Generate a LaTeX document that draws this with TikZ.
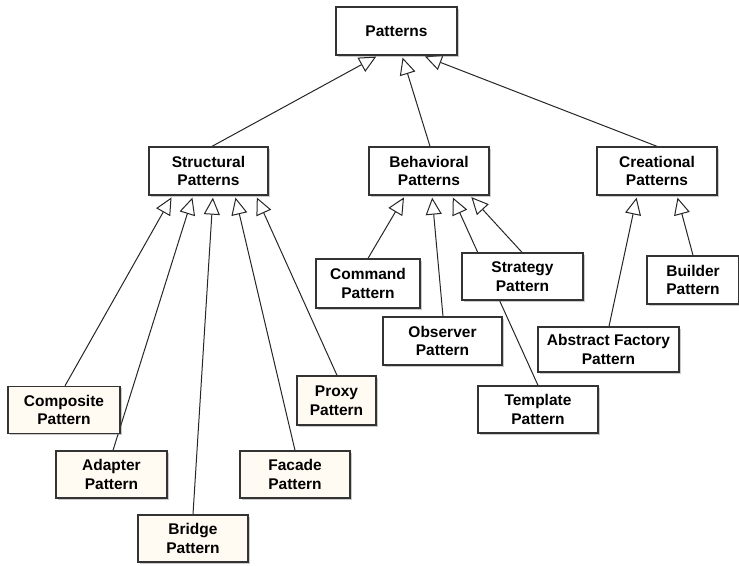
\documentclass[tikz,border=0pt]{standalone}
\usepackage{fontspec}
\setmainfont{Liberation Sans}
\usetikzlibrary{arrows.meta,shadows,backgrounds}
\definecolor{cream}{RGB}{255,250,242}

\begin{document}
\begin{tikzpicture}[x=1pt,y=-1pt,
  box/.style={draw=black!80,line width=1.3pt,fill=white,align=center,inner sep=2pt,minimum height=48pt,
    font=\fontsize{15.5}{18.7}\selectfont\bfseries,
    drop shadow={shadow xshift=1.6pt,shadow yshift=-1.6pt,opacity=0.35,fill=black!60}},
  leaf/.style={box,fill=cream},
  inh/.style={-{Triangle[open,length=17pt,width=16pt]},shorten >=2pt,line width=1pt,draw=black!85}]
\useasboundingbox (0,0) rectangle (739,565);
% top of the hierarchy
\node[box,minimum width=121pt] (patterns) at (396.5,31) {Patterns};
\node[box,minimum width=119pt] (structural) at (208.5,171) {Structural\\Patterns};
\node[box,minimum width=120pt] (behavioral) at (429,171) {Behavioral\\Patterns};
\node[box,minimum width=120pt] (creational) at (657,171) {Creational\\Patterns};
% behavioral and creational patterns
\node[box,minimum width=104pt,minimum height=49pt] (command) at (368,283.5) {Command\\Pattern};
\node[box,minimum width=121pt,minimum height=47pt] (strategy) at (522.5,276.5) {Strategy\\Pattern};
\node[box,minimum width=119pt] (observer) at (442.5,341) {Observer\\Pattern};
\node[box,minimum width=120pt,minimum height=47pt] (template) at (538,409.5) {Template\\Pattern};
\node[box,minimum width=141pt,minimum height=45pt] (abstractfactory) at (608.5,349.5) {Abstract Factory\\Pattern};
\node[box,minimum width=92pt] (builder) at (693,280) {Builder\\Pattern};
% structural patterns
\node[leaf,minimum width=112pt,minimum height=47pt] (composite) at (64,410) {Composite\\Pattern};
\node[leaf,minimum width=111pt,minimum height=47pt] (adapter) at (111.5,474.5) {Adapter\\Pattern};
\node[leaf,minimum width=110pt,minimum height=47pt] (bridge) at (193,538.5) {Bridge\\Pattern};
\node[leaf,minimum width=110pt,minimum height=47pt] (facade) at (295,474.5) {Facade\\Pattern};
\node[leaf,minimum width=79pt,minimum height=49pt] (proxy) at (336.5,400.5) {Proxy\\Pattern};
% inheritance arrows
\begin{scope}[on background layer]
\draw[inh] ([xshift=3.5pt]structural.north) -- ([xshift=-18.5pt]patterns.south);
\draw[inh] ([xshift=1pt]behavioral.north) -- ([xshift=5.5pt]patterns.south);
\draw[inh] (creational.north) -- ([xshift=26.5pt]patterns.south);
\draw[inh] ([xshift=1pt]composite.north) -- ([xshift=-36pt]structural.south);
\draw[inh] ([xshift=1.5pt]adapter.north) -- ([xshift=-15.5pt]structural.south);
\draw[inh] (bridge.north) -- ([xshift=4.5pt]structural.south);
\draw[inh] (facade.north) -- ([xshift=26.5pt]structural.south);
\draw[inh] ([xshift=0.5pt]proxy.north) -- ([xshift=47.5pt]structural.south);
\draw[inh] (command.north) -- ([xshift=-24pt]behavioral.south);
\draw[inh] ([xshift=0.5pt]observer.north) -- ([xshift=3pt]behavioral.south);
\draw[inh] (template.north) -- ([xshift=23pt]behavioral.south);
\draw[inh] ([xshift=-0.5pt]strategy.north) -- ([xshift=41pt]behavioral.south);
\draw[inh] ([xshift=0.5pt]abstractfactory.north) -- ([xshift=-20pt]creational.south);
\draw[inh] (builder.north) -- ([xshift=20pt]creational.south);
\end{scope}
\end{tikzpicture}
\end{document}
